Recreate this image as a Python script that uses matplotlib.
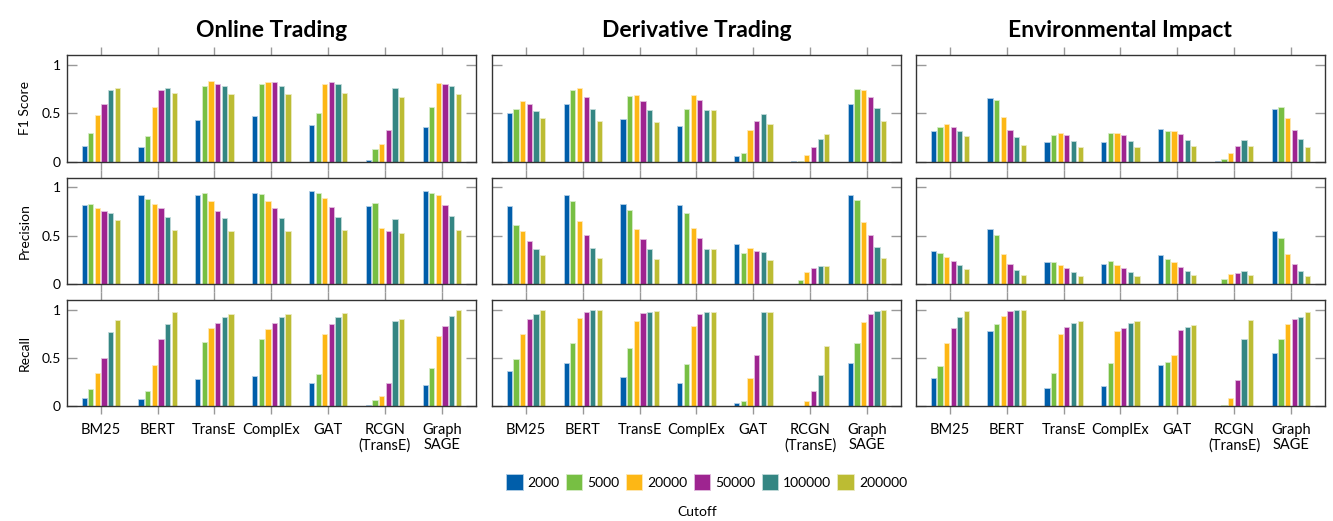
import matplotlib
matplotlib.use("Agg")
import matplotlib.pyplot as plt
import matplotlib.colors as mcolors
from matplotlib.patches import Patch
import numpy as np

plt.rcParams['font.family'] = ['Lato', 'DejaVu Sans']

methods = ["BM25", "BERT", "TransE", "ComplEx", "GAT", "RCGN\n(TransE)", "Graph\nSAGE"]
cutoffs = ["2000", "5000", "20000", "50000", "100000", "200000"]
colors = ["#005EAA", "#77BF43", "#FDB715", "#9E2490", "#348683", "#BCBC33"]
domains = ["Online Trading", "Derivative Trading", "Environmental Impact"]
metrics = ["F1 Score", "Precision", "Recall"]

# rows = methods, columns = cutoffs
online_f1 = [[0.16, 0.30, 0.48, 0.60, 0.745, 0.765],
             [0.15, 0.26, 0.56, 0.745, 0.765, 0.705],
             [0.43, 0.785, 0.835, 0.805, 0.785, 0.695],
             [0.47, 0.805, 0.825, 0.825, 0.785, 0.695],
             [0.38, 0.50, 0.805, 0.825, 0.80, 0.705],
             [0.02, 0.13, 0.18, 0.33, 0.765, 0.665],
             [0.36, 0.56, 0.815, 0.805, 0.785, 0.695]]
deriv_f1 = [[0.505, 0.54, 0.625, 0.595, 0.525, 0.455],
            [0.60, 0.745, 0.765, 0.665, 0.54, 0.415],
            [0.445, 0.675, 0.685, 0.625, 0.53, 0.405],
            [0.37, 0.54, 0.685, 0.635, 0.53, 0.53],
            [0.06, 0.09, 0.33, 0.415, 0.495, 0.385],
            [0.003, 0.003, 0.07, 0.15, 0.23, 0.285],
            [0.60, 0.755, 0.745, 0.665, 0.55, 0.415]]
env_f1 = [[0.315, 0.36, 0.385, 0.36, 0.315, 0.26],
          [0.655, 0.635, 0.465, 0.33, 0.25, 0.17],
          [0.20, 0.27, 0.30, 0.27, 0.21, 0.15],
          [0.20, 0.30, 0.30, 0.27, 0.21, 0.15],
          [0.34, 0.32, 0.315, 0.285, 0.22, 0.16],
          [0.003, 0.025, 0.09, 0.16, 0.22, 0.16],
          [0.54, 0.56, 0.455, 0.33, 0.23, 0.15]]
online_prec = [[0.82, 0.83, 0.79, 0.755, 0.735, 0.665],
               [0.925, 0.875, 0.83, 0.785, 0.695, 0.555],
               [0.925, 0.945, 0.855, 0.755, 0.685, 0.545],
               [0.945, 0.935, 0.855, 0.785, 0.685, 0.545],
               [0.965, 0.945, 0.885, 0.795, 0.695, 0.555],
               [0.805, 0.84, 0.575, 0.545, 0.675, 0.525],
               [0.965, 0.945, 0.925, 0.815, 0.705, 0.555]]
deriv_prec = [[0.805, 0.615, 0.545, 0.44, 0.365, 0.295],
              [0.925, 0.855, 0.655, 0.505, 0.375, 0.265],
              [0.83, 0.765, 0.565, 0.46, 0.365, 0.255],
              [0.82, 0.735, 0.575, 0.475, 0.365, 0.365],
              [0.415, 0.325, 0.375, 0.345, 0.335, 0.245],
              [0.003, 0.045, 0.125, 0.165, 0.185, 0.185],
              [0.925, 0.865, 0.645, 0.505, 0.385, 0.265]]
env_prec = [[0.345, 0.325, 0.275, 0.235, 0.195, 0.155],
            [0.565, 0.505, 0.315, 0.205, 0.145, 0.09],
            [0.225, 0.225, 0.195, 0.165, 0.125, 0.08],
            [0.205, 0.235, 0.195, 0.165, 0.125, 0.08],
            [0.295, 0.255, 0.225, 0.175, 0.135, 0.09],
            [0.003, 0.055, 0.105, 0.115, 0.135, 0.09],
            [0.545, 0.475, 0.315, 0.205, 0.135, 0.08]]
online_rec = [[0.09, 0.18, 0.345, 0.50, 0.765, 0.895],
              [0.08, 0.155, 0.425, 0.70, 0.855, 0.975],
              [0.28, 0.67, 0.815, 0.865, 0.925, 0.955],
              [0.31, 0.70, 0.805, 0.865, 0.925, 0.955],
              [0.245, 0.33, 0.745, 0.855, 0.925, 0.965],
              [0.01, 0.07, 0.11, 0.245, 0.885, 0.905],
              [0.225, 0.40, 0.725, 0.835, 0.935, 0.995]]
deriv_rec = [[0.365, 0.495, 0.745, 0.905, 0.955, 0.995],
             [0.445, 0.66, 0.91, 0.975, 1.0, 1.0],
             [0.30, 0.605, 0.885, 0.965, 0.975, 0.985],
             [0.245, 0.435, 0.835, 0.955, 0.975, 0.975],
             [0.035, 0.055, 0.29, 0.535, 0.975, 0.975],
             [0.003, 0.003, 0.055, 0.155, 0.32, 0.625],
             [0.45, 0.66, 0.875, 0.955, 0.985, 1.0]]
env_rec = [[0.29, 0.415, 0.655, 0.815, 0.925, 0.985],
           [0.775, 0.855, 0.935, 0.985, 1.0, 1.0],
           [0.195, 0.345, 0.745, 0.825, 0.865, 0.885],
           [0.21, 0.445, 0.775, 0.815, 0.865, 0.885],
           [0.425, 0.455, 0.535, 0.795, 0.825, 0.845],
           [0.003, 0.01, 0.09, 0.27, 0.70, 0.895],
           [0.555, 0.70, 0.855, 0.905, 0.925, 0.975]]

grid = [[online_f1, deriv_f1, env_f1],
        [online_prec, deriv_prec, env_prec],
        [online_rec, deriv_rec, env_rec]]

fig = plt.figure(figsize=(13.33, 5.21), dpi=100)

lefts = [0.050, 0.369, 0.687]
width = 0.307
bottoms = [0.690, 0.455, 0.220]
height = 0.204

x = np.arange(len(methods))
slot = 0.117
bw = 0.092

def light(c):
    r, g, b = mcolors.to_rgb(c)
    return (r + (1 - r) * 0.7, g + (1 - g) * 0.7, b + (1 - b) * 0.7)

for i in range(3):
    for j in range(3):
        ax = fig.add_axes([lefts[j], bottoms[i], width, height])
        vals = np.array(grid[i][j])
        for k in range(len(cutoffs)):
            ax.bar(x + (k - 2.5) * slot, vals[:, k], width=bw, color=colors[k],
                   edgecolor=light(colors[k]), linewidth=0.6, zorder=2)
        ax.set_xlim(-0.6, 6.6)
        ax.set_ylim(0, 1.1)
        ax.set_yticks([0, 0.5, 1])
        ax.set_xticks(x)
        ax.tick_params(axis='y', direction='in', length=7.5, width=1, color='#999999',
                       left=True, right=True, labelsize=10, pad=4)
        ax.tick_params(axis='x', direction='out', length=6, width=1, color='#999999',
                       top=True, bottom=True, labelsize=10.5, pad=6)
        ax.set_yticklabels(["0", "0.5", "1"])
        if j > 0:
            ax.set_yticklabels([])
        if i < 2:
            ax.set_xticklabels([])
        else:
            ax.set_xticklabels(methods, linespacing=1.1)
        for s in ax.spines.values():
            s.set_linewidth(1.0)
            s.set_color('#333333')
        if j == 0:
            ax.set_ylabel(metrics[i], fontsize=10, labelpad=8)
        if i == 0:
            ax.set_title(domains[j], fontsize=16.5, fontweight='bold', pad=13)

handles = [Patch(facecolor=colors[k], edgecolor=light(colors[k]), linewidth=0.6) for k in range(len(cutoffs))]
fig.legend(handles, cutoffs, loc='center', bbox_to_anchor=(0.53, 0.075), ncol=6,
           frameon=False, fontsize=10, handlelength=1.2, handleheight=1.45,
           handletextpad=0.35, columnspacing=0.45)
fig.text(0.523, 0.017, "Cutoff", ha='center', va='center', fontsize=10)

fig.savefig("out.png", dpi=100)
